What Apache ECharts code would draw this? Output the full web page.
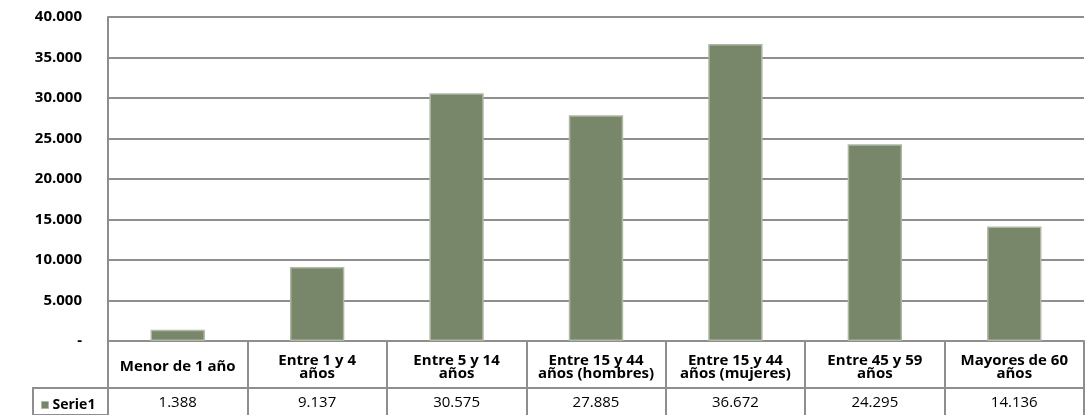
<!DOCTYPE html>
<html>
<head>
<meta charset="utf-8">
<script src="https://cdn.jsdelivr.net/npm/echarts@6/dist/echarts.min.js"></script>
<style>html,body{margin:0;padding:0;background:#fff}#c{width:1087px;height:415px}</style>
</head>
<body>
<div id="c"></div>
<script>
const categories = ['Menor de 1 año', 'Entre 1 y 4\naños', 'Entre 5 y 14\naños', 'Entre 15 y 44\naños (hombres)', 'Entre 15 y 44\naños (mujeres)', 'Entre 45 y 59\naños', 'Mayores de 60\naños'];
const serie1 = [1388, 9137, 30575, 27885, 36672, 24295, 14136];
const seriesName = 'Serie1';
const yTicks = [0, 5000, 10000, 15000, 20000, 25000, 30000, 35000, 40000];

const fmt = v => v === 0 ? '-' : String(v).replace(/\B(?=(\d{3})+(?!\d))/g, '.');
const FONT = 'Open Sans';
const LINE = '#8e8e8e';

const chart = echarts.init(document.getElementById('c'));
const gridLeft = 108, gridRight = 3, gridTop = 17, gridBottom = 74;
chart.setOption({
  animation: false,
  textStyle: { fontFamily: FONT },
  grid: { left: gridLeft, right: gridRight, top: gridTop, bottom: gridBottom },
  legend: {
    data: [seriesName], left: 36, top: 393, icon: 'rect', itemWidth: 7, itemHeight: 7, itemGap: 4,
    itemStyle: { borderColor: '#b0b8a4', borderWidth: 1 },
    textStyle: { fontWeight: 'bold', fontSize: 14, color: '#000', fontFamily: FONT, padding: [0, 0, 0, -1] }
  },
  xAxis: [{
    type: 'category', data: categories, position: 'bottom',
    axisLine: { lineStyle: { color: LINE, width: 2 } },
    axisTick: { show: true, length: 74, interval: 0, lineStyle: { color: LINE, width: 2 } },
    axisLabel: { interval: 0, margin: 26, verticalAlign: 'middle', fontWeight: 'bold', fontSize: 15, lineHeight: 13, color: '#000', fontFamily: FONT }
  }, {
    type: 'category', data: serie1.map(fmt), position: 'bottom', offset: 47,
    axisLine: { lineStyle: { color: LINE, width: 2 } },
    axisTick: { show: false },
    axisLabel: { interval: 0, margin: 15, verticalAlign: 'middle', fontSize: 15, color: '#000', fontFamily: FONT }
  }],
  yAxis: {
    type: 'value', min: yTicks[0], max: yTicks[yTicks.length - 1], interval: yTicks[1] - yTicks[0],
    axisLine: { show: true, lineStyle: { color: LINE, width: 2 } },
    axisTick: { show: false },
    splitLine: { lineStyle: { color: LINE, width: 2 } },
    axisLabel: { formatter: fmt, margin: 26, fontWeight: 'bold', fontSize: 15, color: '#000', fontFamily: FONT }
  },
  series: [{
    name: seriesName, type: 'bar', data: serie1, barWidth: '39%', xAxisIndex: 0,
    itemStyle: { color: '#78866a', borderColor: '#b0b8a4', borderWidth: 1.5 }
  }],
  graphic: [{
    type: 'polyline', silent: true,
    shape: { points: [[gridLeft, 415 - gridBottom + 47], [33, 415 - gridBottom + 47], [33, 415], [gridLeft, 415]] },
    style: { stroke: LINE, lineWidth: 2, fill: null }
  }]
});
</script>
</body>
</html>
